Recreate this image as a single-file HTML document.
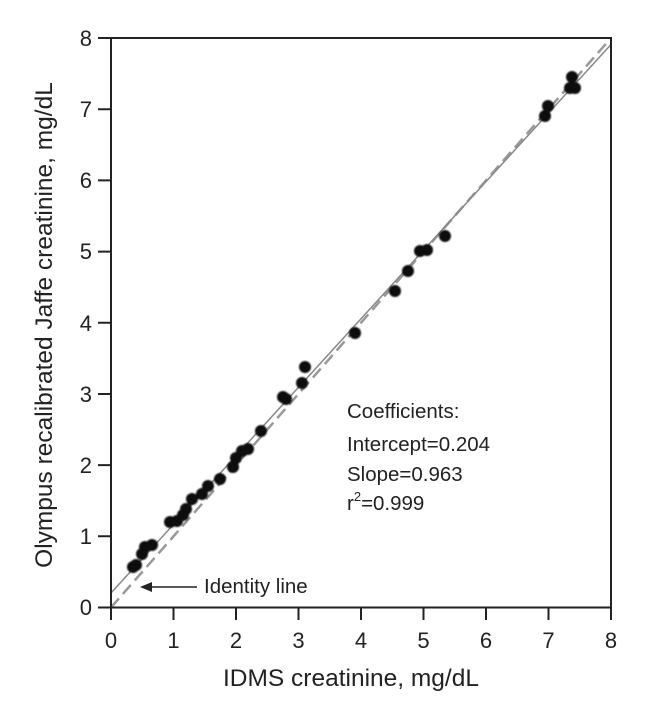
<!DOCTYPE html>
<html><head><style>body{margin:0;background:#fff}svg{display:block}text{font-family:"Liberation Sans",Arial,sans-serif;fill:#222}</style></head>
<body>
<svg width="649" height="709" xmlns="http://www.w3.org/2000/svg">
<defs><filter id="b"><feGaussianBlur stdDeviation="0.9"/></filter></defs>
<line x1="111" y1="607.5" x2="611" y2="38" stroke="#999" stroke-width="2.5" stroke-dasharray="12,6"/>
<line x1="111" y1="593" x2="611" y2="44.5" stroke="#888" stroke-width="1.5"/>
<g fill="#111" filter="url(#b)">
<circle cx="133" cy="567" r="6"/><circle cx="136" cy="565" r="6"/><circle cx="142" cy="554" r="6"/><circle cx="145" cy="547" r="6"/><circle cx="152" cy="545" r="6"/>
<circle cx="170" cy="522" r="6"/><circle cx="177" cy="521" r="6"/><circle cx="183" cy="515" r="6"/><circle cx="186" cy="509" r="6"/><circle cx="192" cy="499" r="6"/>
<circle cx="202" cy="494" r="6"/><circle cx="208" cy="486" r="6"/><circle cx="220" cy="479" r="6"/><circle cx="233" cy="467" r="6"/><circle cx="236" cy="458" r="6"/>
<circle cx="242" cy="451" r="6"/><circle cx="248" cy="449" r="6"/><circle cx="261" cy="431" r="6"/><circle cx="283" cy="397" r="6"/><circle cx="286" cy="399" r="6"/>
<circle cx="302" cy="383" r="6"/><circle cx="305" cy="367" r="6"/><circle cx="355" cy="333" r="6"/><circle cx="395" cy="291" r="6"/><circle cx="408" cy="271" r="6"/>
<circle cx="420" cy="251" r="6"/><circle cx="427" cy="250" r="6"/><circle cx="445" cy="236" r="6"/><circle cx="545" cy="116" r="6"/><circle cx="548" cy="106" r="6"/>
<circle cx="570" cy="88" r="6"/><circle cx="572" cy="77" r="6"/><circle cx="575" cy="88" r="6"/>
</g>
<g stroke="#222" stroke-width="2" fill="none">
<rect x="111" y="38" width="500" height="569.5"/>
<path d="M98 607.5H111M98 536.3H111M98 465.1H111M98 394H111M98 322.8H111M98 251.6H111M98 180.4H111M98 109.2H111M98 38H111"/>
<path d="M111 607.5V620M173.5 607.5V620M236 607.5V620M298.5 607.5V620M361 607.5V620M423.5 607.5V620M486 607.5V620M548.5 607.5V620M611 607.5V620"/>
<line x1="197" y1="587" x2="150" y2="587" stroke-width="1.5"/>
</g>
<polygon points="140,587 152,582 152,592" fill="#222"/>
<g font-size="22" text-anchor="end">
<text x="92" y="615">0</text><text x="92" y="544">1</text><text x="92" y="473">2</text><text x="92" y="402">3</text><text x="92" y="331">4</text><text x="92" y="259">5</text><text x="92" y="188">6</text><text x="92" y="117">7</text><text x="92" y="46">8</text>
</g>
<g font-size="22" text-anchor="middle">
<text x="111" y="648">0</text><text x="173.5" y="648">1</text><text x="236" y="648">2</text><text x="298.5" y="648">3</text><text x="361" y="648">4</text><text x="423.5" y="648">5</text><text x="486" y="648">6</text><text x="548.5" y="648">7</text><text x="611" y="648">8</text>
</g>
<g font-size="24.5" text-anchor="middle">
<text x="351" y="686">IDMS creatinine, mg/dL</text>
<text transform="translate(52,325) rotate(-90)">Olympus recalibrated Jaffe creatinine, mg/dL</text>
</g>
<g font-size="20.5">
<text x="204" y="593">Identity line</text>
<text x="347" y="418">Coefficients:</text>
<text x="347" y="451">Intercept=0.204</text>
<text x="347" y="481">Slope=0.963</text>
<text x="347" y="510">r<tspan font-size="13" dy="-9">2</tspan><tspan dy="9">=0.999</tspan></text>
</g>
</svg>
</body></html>
